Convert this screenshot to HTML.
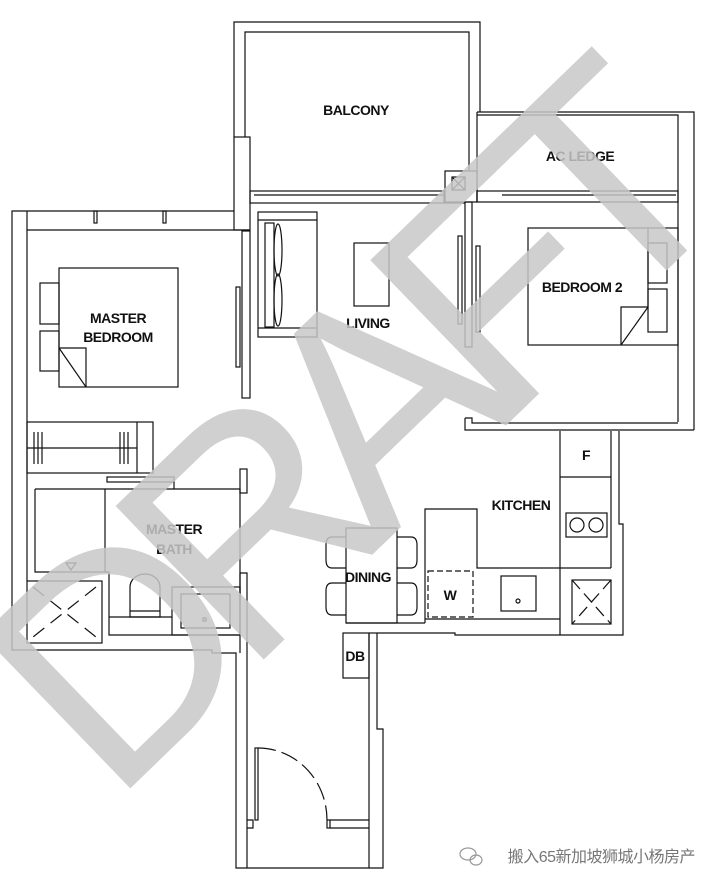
<!DOCTYPE html>
<html><head><meta charset="utf-8"><style>
html,body{margin:0;padding:0;background:#fff;width:712px;height:884px;overflow:hidden;}
svg{display:block;overflow:hidden;}
text{font-family:"Liberation Sans",Arial,sans-serif;font-weight:bold;fill:#111;letter-spacing:-0.5px;}
</style></head><body>
<svg width="712" height="884" viewBox="0 0 712 884" xmlns="http://www.w3.org/2000/svg">
<g fill="none" stroke="#111" stroke-width="1.2">
<polyline points="234,137 234,22 480,22 480,112"/>
<polyline points="245,137 245,32 469,32 469,171"/>
<rect x="234" y="137" width="16" height="93"/>
<rect x="250" y="191" width="194" height="12"/>
<line x1="254" y1="195" x2="444" y2="195"/>
<rect x="445" y="171" width="32" height="31"/>
<rect x="452" y="177" width="13" height="13"/>
<line x1="452" y1="177" x2="465" y2="190"/><line x1="465" y1="177" x2="452" y2="190"/>
<polyline points="477,112 694,112 694,430"/>
<polyline points="477,115 678,115 678,422"/>
<line x1="477" y1="112" x2="477" y2="202"/>
<rect x="477" y="191" width="201" height="11"/>
<line x1="502" y1="195" x2="676" y2="195"/>
<line x1="444" y1="203" x2="465" y2="203"/>
<rect x="465" y="202" width="7" height="145"/>
<rect x="458" y="236" width="4" height="88"/>
<rect x="476" y="246" width="4" height="86"/>
<polyline points="465,418 465,430 694,430"/>
<polyline points="465,418 472,418 472,423 678,423"/>
<rect x="528" y="228" width="150" height="117"/>
<rect x="648" y="243" width="19" height="40"/>
<rect x="648" y="289" width="19" height="43"/>
<polyline points="648,228 648,307 621,307 621,345"/>
<line x1="648" y1="307" x2="621" y2="345"/>
<polyline points="234,211 12,211 12,650 212,650 212,653 236,653 236,868 383,868 383,729 377,729 377,633"/>
<polyline points="250,230 27,230 27,581"/>
<line x1="27" y1="211" x2="27" y2="230"/>
<rect x="94" y="211" width="3" height="12"/>
<rect x="163" y="211" width="3" height="12"/>
<rect x="242" y="231" width="8" height="167"/>
<rect x="236" y="287" width="4" height="80"/>
<rect x="59" y="268" width="119" height="119"/>
<rect x="40" y="283" width="19" height="41"/>
<rect x="40" y="331" width="19" height="40"/>
<polyline points="59,348 86,348 86,387"/>
<line x1="59" y1="348" x2="86" y2="387"/>
<rect x="258" y="212" width="59" height="125"/>
<line x1="258" y1="220" x2="317" y2="220"/><line x1="258" y1="328" x2="317" y2="328"/>
<rect x="265" y="223" width="9" height="104"/>
<ellipse cx="278" cy="250" rx="4" ry="26"/>
<ellipse cx="278" cy="300" rx="4" ry="26"/>
<rect x="354" y="243" width="35" height="63"/>
<rect x="27" y="422" width="126" height="51"/>
<line x1="137" y1="422" x2="137" y2="473"/>
<line x1="27" y1="448" x2="137" y2="448"/>
<line x1="34" y1="432" x2="34" y2="464"/><line x1="38" y1="432" x2="38" y2="464"/><line x1="42" y1="432" x2="42" y2="464"/>
<line x1="120" y1="432" x2="120" y2="464"/><line x1="124" y1="432" x2="124" y2="464"/><line x1="128" y1="432" x2="128" y2="464"/>
<rect x="107" y="477" width="67" height="5"/>
<rect x="240" y="469" width="7" height="24"/>
<polyline points="35,489 240,489 240,635 109,635 109,572 35,572 35,489"/>
<line x1="105" y1="489" x2="105" y2="572"/>
<line x1="174" y1="482" x2="174" y2="489"/>
<polygon points="66,563 76,563 71,570"/>
<rect x="27" y="581" width="75" height="62"/>
<line x1="33" y1="587" x2="96" y2="637" stroke-dasharray="14,8"/>
<line x1="96" y1="587" x2="33" y2="637" stroke-dasharray="14,8"/>
<path d="M130,617 L130,587 A15,13 0 0 1 160,587 L160,617 Z"/>
<line x1="130" y1="611" x2="160" y2="611"/>
<line x1="109" y1="617" x2="172" y2="617"/>
<rect x="172" y="587" width="68" height="48"/>
<rect x="181" y="594" width="49" height="34"/>
<rect x="203" y="618" width="3" height="3"/>
<polyline points="240,573 247,573 247,868"/>
<polyline points="240,573 240,653"/>
<rect x="255" y="748" width="3" height="72"/>
<polyline points="247,820 253,820 253,828 247,828"/>
<path d="M258,748 A69,72 0 0 1 327,820" stroke-dasharray="18,6"/>
<rect x="327" y="820" width="3" height="8"/>
<line x1="330" y1="820" x2="369" y2="820"/><line x1="330" y1="828" x2="369" y2="828"/>
<line x1="369" y1="633" x2="369" y2="868"/>
<rect x="343" y="633" width="26" height="45"/>
<polyline points="377,633 455,633 455,635 623,635 623,524 619,524 619,431"/>
<line x1="346" y1="623" x2="425" y2="623"/>
<line x1="369" y1="633" x2="377" y2="633"/>
<rect x="346" y="528" width="51" height="95"/>
<path d="M346,537 L332,537 Q326,537 326,545 L326,560 Q326,568 332,568 L346,568"/>
<path d="M346,583 L332,583 Q326,583 326,591 L326,607 Q326,615 332,615 L346,615"/>
<path d="M397,537 L411,537 Q417,537 417,545 L417,560 Q417,568 411,568 L397,568"/>
<path d="M397,583 L411,583 Q417,583 417,591 L417,607 Q417,615 411,615 L397,615"/>
<polyline points="425,623 425,509 477,509 477,568 611,568"/>
<line x1="425" y1="619" x2="560" y2="619"/>
<polyline points="560,431 560,635"/>
<polyline points="611,431 611,568"/>
<line x1="560" y1="477" x2="611" y2="477"/>
<rect x="566" y="513" width="41" height="24"/>
<circle cx="577" cy="525" r="7"/><circle cx="596" cy="525" r="7"/>
<rect x="428" y="571" width="45" height="46" stroke-dasharray="6,3"/>
<rect x="501" y="576" width="35" height="35"/>
<circle cx="518" cy="601" r="2"/>
<rect x="572" y="580" width="39" height="44"/>
<line x1="572" y1="580" x2="611" y2="624" stroke-dasharray="12,6"/>
<line x1="611" y1="580" x2="572" y2="624" stroke-dasharray="12,6"/>
</g>
<g font-size="14" text-anchor="middle">
<text x="356" y="115">BALCONY</text>
<text x="580" y="161">AC LEDGE</text>
<text x="582" y="292">BEDROOM 2</text>
<text x="118" y="323">MASTER</text>
<text x="118" y="342">BEDROOM</text>
<text x="368" y="328">LIVING</text>
<text x="174" y="534">MASTER</text>
<text x="174" y="554">BATH</text>
<text x="521" y="510">KITCHEN</text>
<text x="586" y="460">F</text>
<text x="368" y="582">DINING</text>
<text x="450" y="600">W</text>
<text x="355" y="661">DB</text>
</g>
<text x="0" y="0" font-size="310" textLength="880" lengthAdjust="spacing" transform="translate(112,806) rotate(-44)" style="fill:#c8c8c8;opacity:0.85;font-weight:normal;letter-spacing:0">DRAFT</text>
<text x="695" y="862" text-anchor="end" font-size="16" style="fill:#777;font-weight:normal;font-family:'Liberation Sans','Noto Sans CJK SC',sans-serif;">搬入65新加坡狮城小杨房产</text>
<g fill="none" stroke="#999" stroke-width="1.2"><ellipse cx="468" cy="854" rx="8" ry="6"/><ellipse cx="476" cy="860" rx="6" ry="5"/></g>
</svg>
</body></html>
